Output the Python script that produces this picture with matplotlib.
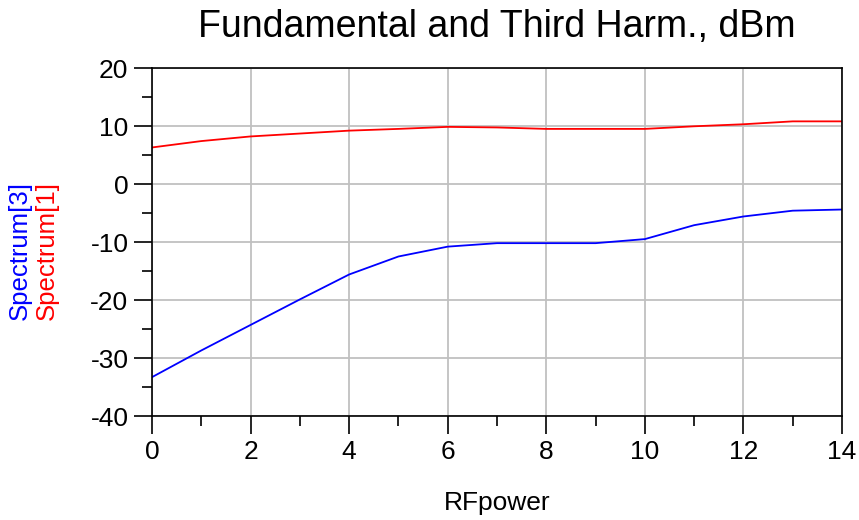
import matplotlib.pyplot as plt
from matplotlib.ticker import MultipleLocator

plt.rcParams['font.family'] = ['Liberation Sans', 'DejaVu Sans']
plt.rcParams['axes.unicode_minus'] = False

# Data
rf_power = [0, 1, 2, 3, 4, 5, 6, 7, 8, 9, 10, 11, 12, 13, 14]
spectrum1 = [6.3, 7.4, 8.2, 8.7, 9.2, 9.5, 9.85, 9.75, 9.5, 9.5, 9.5, 9.95, 10.3, 10.8, 10.8]
spectrum3 = [-33.3, -28.7, -24.3, -19.9, -15.6, -12.5, -10.8, -10.2, -10.2, -10.2, -9.5, -7.1, -5.6, -4.6, -4.4]

fig = plt.figure(figsize=(8.59, 5.20), dpi=100)
ax = fig.add_axes([152/859, 1 - 416/520, (842 - 152)/859, (416 - 68)/520])

ax.plot(rf_power, spectrum1, color='red', lw=1.3)
ax.plot(rf_power, spectrum3, color='blue', lw=1.3)

ax.set_xlim(0, 14)
ax.set_ylim(-40, 20)
ax.xaxis.set_major_locator(MultipleLocator(2))
ax.xaxis.set_minor_locator(MultipleLocator(1))
ax.yaxis.set_major_locator(MultipleLocator(10))
ax.yaxis.set_minor_locator(MultipleLocator(5))
ax.grid(True, which='major', color='#c0c0c0', lw=1.3)
ax.set_axisbelow(True)
ax.tick_params(which='major', length=13, width=1.2, labelsize=19, pad=4)
ax.tick_params(which='minor', length=7, width=1.2)
for s in ax.spines.values():
    s.set_linewidth(1.2)

ax.set_title("Fundamental and Third Harm., dBm", fontsize=27, pad=22)
ax.set_xlabel("RFpower", fontsize=19, labelpad=20)

# two-colour y label
fig.text(20/859, 1 - 250/520, "Spectrum[3]", color='blue', rotation=90,
         fontsize=18.5, ha='center', va='center')
fig.text(47/859, 1 - 250/520, "Spectrum[1]", color='red', rotation=90,
         fontsize=18.5, ha='center', va='center')

fig.savefig("out.png", dpi=100)
